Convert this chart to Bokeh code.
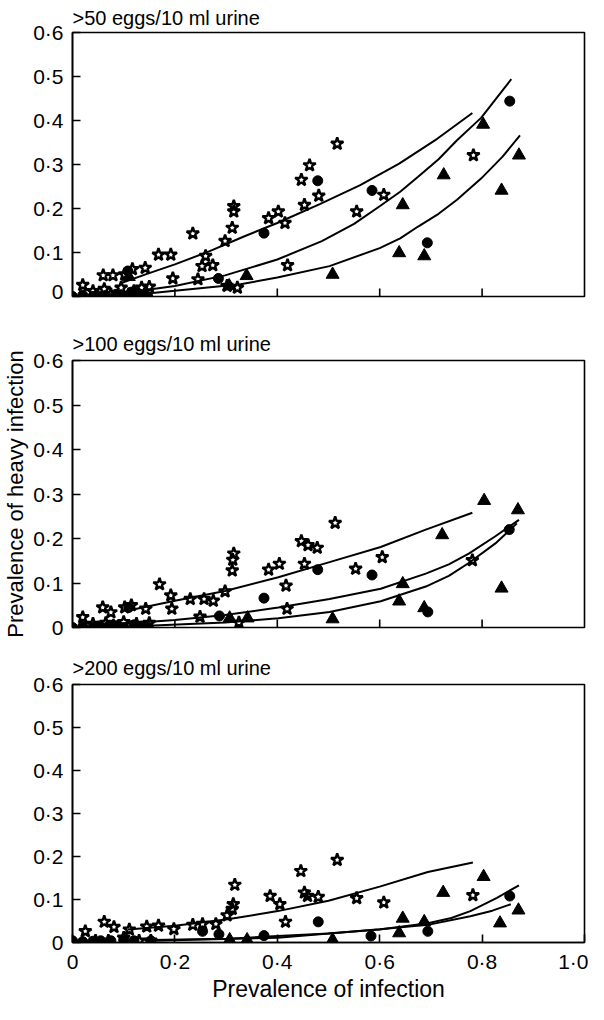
from math import pi
from bokeh.plotting import figure
from bokeh.layouts import column
from bokeh.models import FixedTicker, Range1d
from bokeh.embed import file_html
from bokeh.resources import INLINE

FONT = "Liberation Sans"

# ---------------- Panel 1: >50 eggs/10 ml urine ----------------
p1_star_x = [0.02, 0.04, 0.062, 0.075, 0.095, 0.12, 0.135, 0.15, 0.045, 0.11,
             0.06, 0.079, 0.102, 0.117, 0.142, 0.168, 0.192, 0.196, 0.235, 0.245,
             0.253, 0.26, 0.274, 0.298, 0.302, 0.312, 0.315, 0.315, 0.322, 0.383,
             0.402, 0.415, 0.42, 0.447, 0.453, 0.463, 0.481, 0.517, 0.555, 0.608, 0.783]
p1_star_y = [0.026, 0.012, 0.017, 0.005, 0.02, 0.012, 0.02, 0.022, 0.0, 0.005,
             0.048, 0.048, 0.05, 0.062, 0.065, 0.095, 0.095, 0.041, 0.143, 0.039,
             0.069, 0.092, 0.071, 0.126, 0.024, 0.156, 0.205, 0.193, 0.02, 0.178,
             0.193, 0.167, 0.071, 0.265, 0.208, 0.298, 0.229, 0.347, 0.193, 0.231, 0.321]
p1_circ_x = [0.0, 0.02, 0.04, 0.05, 0.065, 0.085, 0.1, 0.115, 0.13, 0.147,
             0.108, 0.285, 0.374, 0.479, 0.585, 0.693, 0.854]
p1_circ_y = [0.0, 0.003, 0.0, 0.0, 0.002, 0.005, 0.0, 0.01, 0.005, 0.0,
             0.058, 0.041, 0.144, 0.263, 0.241, 0.122, 0.444]
p1_tri_x = [0.11, 0.306, 0.34, 0.508, 0.638, 0.687, 0.645, 0.725, 0.802, 0.838, 0.872]
p1_tri_y = [0.045, 0.024, 0.047, 0.05, 0.099, 0.092, 0.208, 0.276, 0.391, 0.241, 0.321]
p1_fitA_x = [0.094, 0.147, 0.2, 0.268, 0.336, 0.4, 0.483, 0.562, 0.638, 0.713, 0.781]
p1_fitA_y = [0.03, 0.052, 0.073, 0.103, 0.137, 0.167, 0.21, 0.253, 0.302, 0.359, 0.417]
p1_fitB_x = [0.132, 0.2, 0.298, 0.4, 0.487, 0.55, 0.6, 0.64, 0.675, 0.715, 0.751, 0.798, 0.857]
p1_fitB_y = [0.013, 0.024, 0.048, 0.084, 0.126, 0.165, 0.205, 0.238, 0.272, 0.312, 0.355, 0.406, 0.494]
p1_fitC_x = [0.132, 0.2, 0.328, 0.4, 0.502, 0.6, 0.64, 0.675, 0.715, 0.751, 0.798, 0.84, 0.874]
p1_fitC_y = [0.005, 0.013, 0.028, 0.043, 0.069, 0.11, 0.132, 0.159, 0.188, 0.22, 0.268, 0.318, 0.366]

# ---------------- Panel 2: >100 eggs/10 ml urine ----------------
p2_star_x = [0.02, 0.04, 0.065, 0.08, 0.1, 0.125, 0.15, 0.05, 0.11,
             0.059, 0.075, 0.102, 0.115, 0.143, 0.17, 0.192, 0.194, 0.23, 0.249,
             0.257, 0.275, 0.298, 0.312, 0.313, 0.315, 0.325, 0.383, 0.404, 0.417,
             0.419, 0.447, 0.453, 0.46, 0.478, 0.513, 0.553, 0.605, 0.781]
p2_star_y = [0.023, 0.008, 0.01, 0.004, 0.012, 0.008, 0.01, 0.0, 0.003,
             0.045, 0.034, 0.045, 0.05, 0.042, 0.097, 0.072, 0.042, 0.064, 0.024,
             0.064, 0.06, 0.081, 0.128, 0.152, 0.166, 0.011, 0.13, 0.143, 0.094,
             0.042, 0.194, 0.143, 0.185, 0.179, 0.235, 0.132, 0.158, 0.151]
p2_circ_x = [0.0, 0.02, 0.04, 0.055, 0.07, 0.085, 0.1, 0.12, 0.135, 0.147,
             0.11, 0.287, 0.374, 0.479, 0.585, 0.694, 0.853]
p2_circ_y = [0.0, 0.002, 0.0, 0.0, 0.003, 0.004, 0.0, 0.006, 0.003, 0.0,
             0.045, 0.026, 0.066, 0.13, 0.118, 0.035, 0.22]
p2_tri_x = [0.307, 0.342, 0.508, 0.638, 0.645, 0.687, 0.722, 0.804, 0.838, 0.87]
p2_tri_y = [0.021, 0.021, 0.019, 0.059, 0.098, 0.044, 0.208, 0.285, 0.088, 0.264]
p2_fitA_x = [0.109, 0.2, 0.298, 0.402, 0.502, 0.602, 0.69, 0.781]
p2_fitA_y = [0.038, 0.06, 0.082, 0.113, 0.147, 0.181, 0.22, 0.258]
p2_fitB_x = [0.132, 0.2, 0.298, 0.402, 0.502, 0.602, 0.69, 0.735, 0.774, 0.826, 0.872]
p2_fitB_y = [0.011, 0.017, 0.028, 0.045, 0.064, 0.087, 0.121, 0.142, 0.166, 0.205, 0.242]
p2_fitC_x = [0.147, 0.298, 0.402, 0.502, 0.602, 0.69, 0.735, 0.774, 0.826, 0.868]
p2_fitC_y = [0.004, 0.011, 0.021, 0.035, 0.059, 0.092, 0.116, 0.145, 0.189, 0.234]

# ---------------- Panel 3: >200 eggs/10 ml urine ----------------
p3_star_x = [0.025, 0.062, 0.081, 0.1, 0.111, 0.13, 0.145, 0.153, 0.168, 0.198,
             0.235, 0.254, 0.28, 0.302, 0.312, 0.314, 0.317, 0.386, 0.405, 0.416,
             0.446, 0.453, 0.459, 0.48, 0.517, 0.555, 0.608, 0.782, 0.045, 0.07]
p3_star_y = [0.026, 0.048, 0.036, 0.011, 0.03, 0.004, 0.037, 0.004, 0.039, 0.031,
             0.041, 0.043, 0.043, 0.063, 0.078, 0.089, 0.134, 0.108, 0.089, 0.048,
             0.166, 0.116, 0.108, 0.106, 0.192, 0.103, 0.093, 0.11, 0.004, 0.004]
p3_circ_x = [0.0, 0.02, 0.04, 0.055, 0.075, 0.1, 0.12, 0.153, 0.254, 0.286,
             0.374, 0.48, 0.583, 0.694, 0.854]
p3_circ_y = [0.004, 0.002, 0.003, 0.004, 0.004, 0.006, 0.004, 0.004, 0.026, 0.019,
             0.016, 0.048, 0.015, 0.026, 0.108]
p3_tri_x = [0.307, 0.341, 0.508, 0.638, 0.645, 0.687, 0.724, 0.803, 0.835, 0.871]
p3_tri_y = [0.006, 0.006, 0.006, 0.022, 0.056, 0.048, 0.116, 0.153, 0.045, 0.075]
p3_fitA_x = [0.108, 0.2, 0.303, 0.401, 0.5, 0.6, 0.694, 0.782]
p3_fitA_y = [0.03, 0.039, 0.054, 0.073, 0.097, 0.13, 0.164, 0.186]
p3_fitB_x = [0.153, 0.303, 0.401, 0.5, 0.6, 0.694, 0.74, 0.777, 0.829, 0.872]
p3_fitB_y = [0.006, 0.009, 0.015, 0.021, 0.03, 0.045, 0.057, 0.073, 0.104, 0.133]
p3_fitC_x = [0.153, 0.401, 0.6, 0.694, 0.777, 0.82, 0.856]
p3_fitC_y = [0.004, 0.011, 0.031, 0.041, 0.061, 0.074, 0.089]

titles = [">50 eggs/10 ml urine", ">100 eggs/10 ml urine", ">200 eggs/10 ml urine"]
y_ticks = [0, 0.1, 0.2, 0.3, 0.4, 0.5, 0.6]
y_labels = ["0", "0·1", "0·2", "0·3", "0·4", "0·5", "0·6"]
x_ticks = [0, 0.2, 0.4, 0.6, 0.8, 1.0]
x_labels = ["0", "0·2", "0·4", "0·6", "0·8", "1·0"]
x_inner_ticks = [0.2, 0.4, 0.6, 0.8]


def make_panel(title, sx, sy, cx, cy, tx, ty, fits, height, top, bottom,
               show_x, ylabel, standoff):
    p = figure(width=588, height=height, x_range=Range1d(0, 1), y_range=Range1d(0, 0.6),
               output_backend="svg", toolbar_location=None,
               min_border_left=68, min_border_right=4,
               min_border_top=top, min_border_bottom=bottom)
    p.background_fill_color = "white"
    p.border_fill_color = "white"
    p.outline_line_color = "black"
    p.outline_line_width = 1.6
    p.xgrid.visible = False
    p.ygrid.visible = False

    p.title.text = title
    p.title.text_font = FONT
    p.title.text_font_size = "20px"
    p.title.text_font_style = "normal"
    p.title.text_color = "black"
    p.title.align = "left"
    p.title.offset = 0
    p.title.standoff = standoff

    ya = p.yaxis[0]
    ya.ticker = FixedTicker(ticks=y_ticks)
    ya.major_label_overrides = {t: l for t, l in zip(y_ticks, y_labels)}
    ya.major_tick_in = 8
    ya.major_tick_out = 0
    ya.minor_tick_line_color = None
    ya.axis_line_width = 1.6
    ya.axis_line_color = "black"
    ya.major_tick_line_width = 1.6
    ya.major_tick_line_color = "black"
    ya.major_label_text_font = FONT
    ya.major_label_text_font_size = "21px"
    ya.major_label_text_color = "black"
    ya.major_label_standoff = 9
    if ylabel:
        ya.axis_label = ylabel
        ya.axis_label_text_font = FONT
        ya.axis_label_text_font_size = "22px"
        ya.axis_label_text_font_style = "normal"
        ya.axis_label_text_color = "black"
        ya.axis_label_standoff = 2

    if show_x:
        xa = p.xaxis[0]
        xa.ticker = FixedTicker(ticks=x_ticks)
        xa.major_tick_in = 8
        xa.major_tick_out = 0
        xa.minor_tick_line_color = None
        xa.axis_line_width = 1.6
        xa.axis_line_color = "black"
        xa.major_tick_line_width = 1.6
        xa.major_tick_line_color = "black"
        xa.major_label_overrides = {t: l for t, l in zip(x_ticks, x_labels)}
        xa.major_label_text_font = FONT
        xa.major_label_text_font_size = "21px"
        xa.major_label_text_color = "black"
        xa.major_label_standoff = 7
        xa.axis_label = "Prevalence of infection"
        xa.axis_label_text_font = FONT
        xa.axis_label_text_font_size = "23px"
        xa.axis_label_text_font_style = "normal"
        xa.axis_label_text_color = "black"
        xa.axis_label_standoff = 0
    else:
        p.xaxis.visible = False
        # inward tick marks on the bottom edge (lower half clipped by the frame)
        p.scatter(x_inner_ticks, [0] * len(x_inner_ticks), marker="dash", angle=pi / 2,
                  size=16, line_color="black", line_width=1.6)

    for fx, fy in fits:
        p.line(fx, fy, line_color="black", line_width=2)
    p.scatter(sx, sy, marker="star", size=13, fill_color=None,
              line_color="black", line_width=2.4)
    p.scatter(cx, cy, marker="circle", size=10, fill_color="black", line_color="black")
    p.scatter(tx, ty, marker="triangle", size=13, fill_color="black", line_color="black")
    return p


p1 = make_panel(titles[0], p1_star_x, p1_star_y, p1_circ_x, p1_circ_y, p1_tri_x, p1_tri_y,
                [(p1_fitA_x, p1_fitA_y), (p1_fitB_x, p1_fitB_y), (p1_fitC_x, p1_fitC_y)],
                height=302, top=30, bottom=6, show_x=False, ylabel=None, standoff=8)
p2 = make_panel(titles[1], p2_star_x, p2_star_y, p2_circ_x, p2_circ_y, p2_tri_x, p2_tri_y,
                [(p2_fitA_x, p2_fitA_y), (p2_fitB_x, p2_fitB_y), (p2_fitC_x, p2_fitC_y)],
                height=340, top=58, bottom=15, show_x=False,
                ylabel="Prevalence of heavy infection", standoff=12)
p3 = make_panel(titles[2], p3_star_x, p3_star_y, p3_circ_x, p3_circ_y, p3_tri_x, p3_tri_y,
                [(p3_fitA_x, p3_fitA_y), (p3_fitB_x, p3_fitB_y), (p3_fitC_x, p3_fitC_y)],
                height=362, top=42, bottom=55, show_x=True, ylabel=None, standoff=12)

layout = column(p1, p2, p3, spacing=0)
open("out.html", "w").write(file_html(layout, INLINE))
